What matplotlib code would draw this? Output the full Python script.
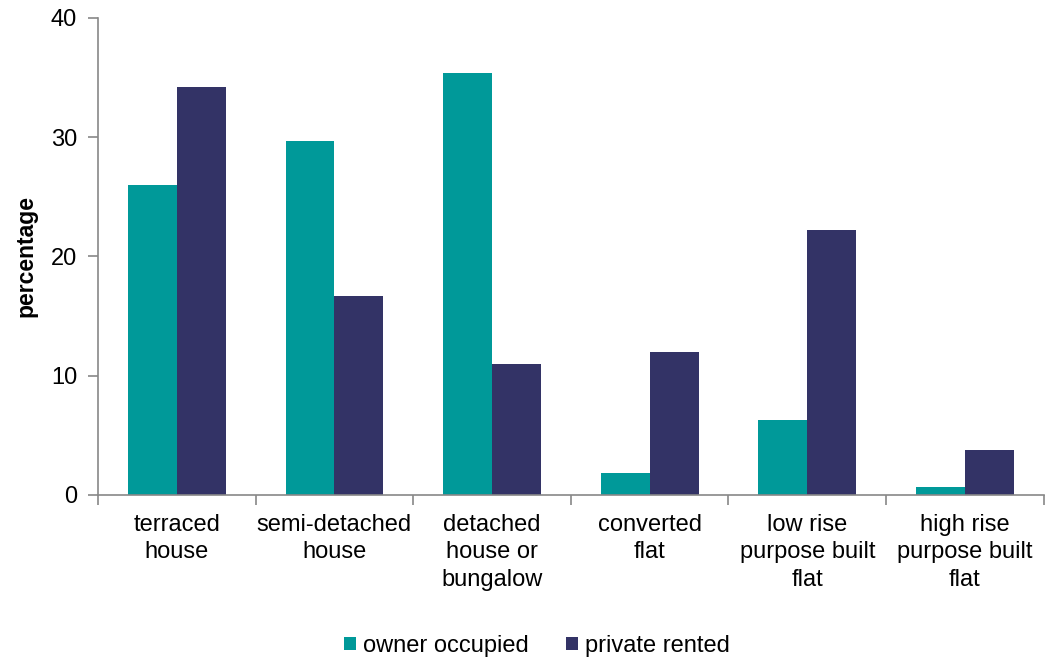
import matplotlib.pyplot as plt
import numpy as np

plt.rcParams['font.family'] = ['Liberation Sans', 'DejaVu Sans']

categories = ['terraced\nhouse', 'semi-detached\nhouse', 'detached\nhouse or\nbungalow',
              'converted\nflat', 'low rise\npurpose built\nflat', 'high rise\npurpose built\nflat']
owner_occupied = [26.0, 29.7, 35.4, 1.8, 6.3, 0.7]
private_rented = [34.2, 16.7, 11.0, 12.0, 22.2, 3.8]

fig = plt.figure(figsize=(10.49, 6.59), dpi=100)
ax = fig.add_axes([0.0934, 0.249, 0.9016, 0.7237])

x = np.arange(len(categories))
w = 0.31
ax.bar(x - w / 2, owner_occupied, w, color='#009999', label='owner occupied')
ax.bar(x + w / 2, private_rented, w, color='#333366', label='private rented')

ax.set_xlim(-0.5, len(categories) - 0.5)
ax.set_ylim(0, 40)
ax.set_yticks([0, 10, 20, 30, 40])
ax.set_ylabel('percentage', fontsize=16.5, fontweight='bold', labelpad=10)

# category labels centred, ticks between groups
ax.set_xticks(x)
ax.set_xticklabels(categories, fontsize=17, linespacing=1.3)
ax.tick_params(axis='x', length=0, pad=14)
ax.set_xticks(np.arange(-0.5, len(categories)), minor=True)
ax.tick_params(axis='x', which='minor', length=7, color='#888888', width=1.2)
ax.tick_params(axis='y', labelsize=17, length=7, color='#888888', width=1.2, pad=8)

for s in ['top', 'right']:
    ax.spines[s].set_visible(False)
for s in ['left', 'bottom']:
    ax.spines[s].set_color('#888888')
    ax.spines[s].set_linewidth(1.2)

fig.legend(loc='center', bbox_to_anchor=(0.512, 0.02), ncol=2, frameon=False,
           fontsize=17, handlelength=0.5, handleheight=0.5, handletextpad=0.3,
           columnspacing=1.6)

fig.savefig('out.png', dpi=100)
